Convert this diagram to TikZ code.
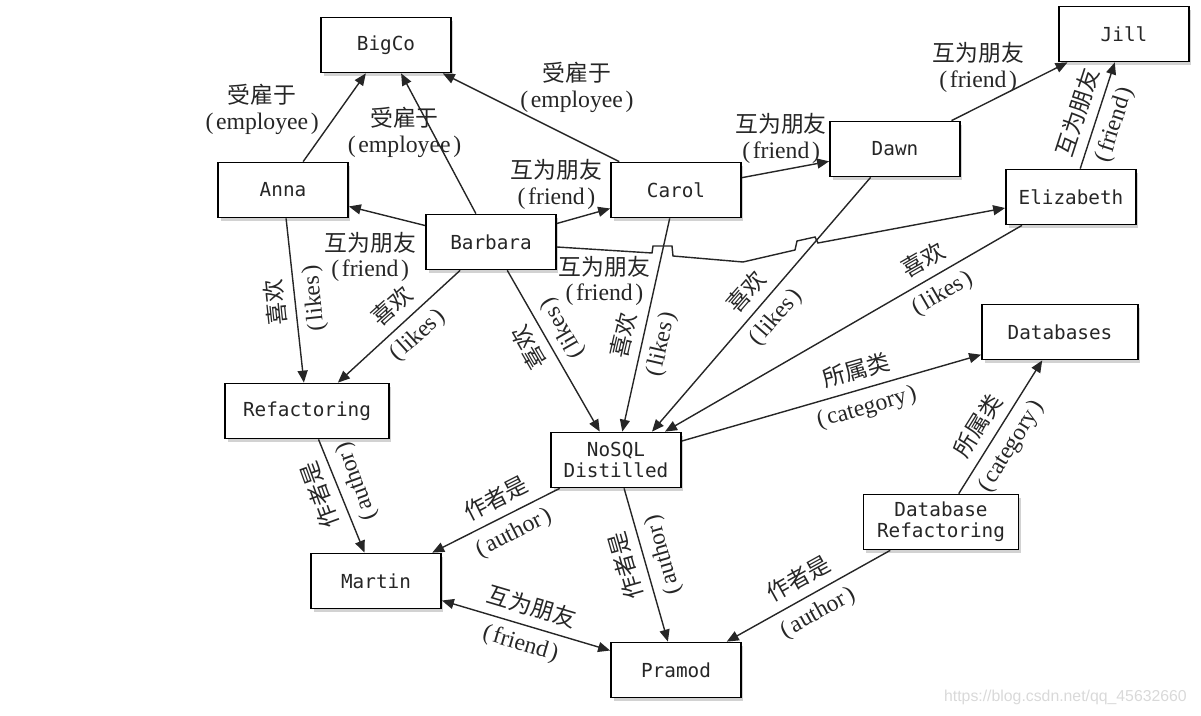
\documentclass[tikz,border=0pt]{standalone}
\usepackage{fontspec}
\setmainfont{Liberation Serif}
\newfontfamily\cjk{Noto Sans CJK SC}
\newfontfamily\mono{DejaVu Sans Mono}
\newfontfamily\wmfont{Liberation Sans}
\usetikzlibrary{arrows.meta,shadows}

\newcommand{\zh}[1]{{\cjk\fontsize{13}{14}\selectfont #1}}
\newcommand{\rel}[2]{\zh{#1}\\(\kern1.5pt#2\kern1.5pt)}

\tikzset{
	entity/.style={draw, line width=1pt, fill=white, minimum width=2.6cm, minimum height=1.1cm,
		align=center, text=black!85, font=\mono\fontsize{11}{12}\selectfont,
		drop shadow={shadow xshift=0.05cm, shadow yshift=-0.07cm, fill=black!35}},
	link/.style={->, line width=0.8pt, black!85},
	lab/.style={align=center, inner sep=1pt, text=black!85, font=\fontsize{13.5}{14.5}\selectfont},
	along/.style={lab, font=\fontsize{13.5}{21}\selectfont},
}

\begin{document}
\begin{tikzpicture}[x=0.02cm, y=-0.02cm, >={Triangle[length=2.4mm,width=2mm]}]
		\useasboundingbox (0,0) rectangle (1201,716);

		% entities
		\node[entity] (bigco) at (386,45) {BigCo};
		\node[entity] (jill) at (1124,34) {Jill};
		\node[entity] (anna) at (283,190) {Anna};
		\node[entity] (barbara) at (491,242) {Barbara};
		\node[entity] (carol) at (676,190) {Carol};
		\node[entity] (dawn) at (895,149) {Dawn};
		\node[entity] (eliz) at (1071,197) {Elizabeth};
		\node[entity, minimum width=3.28cm] (refac) at (307,411) {Refactoring};
		\node[entity] (nosql) at (616,460) {NoSQL\\Distilled};
		\node[entity, minimum width=3.12cm] (dbs) at (1060,332) {Databases};
		\node[entity, minimum width=3.1cm] (dbref) at (941,522) {Database\\Refactoring};
		\node[entity] (martin) at (376,581) {Martin};
		\node[entity] (pramod) at (676,670) {Pramod};

		% employee
		\draw[link] (anna) -- node[lab, pos=0.59, xshift=-1.56cm] {\rel{受雇于}{employee}} (bigco);
		\draw[link] (barbara) -- node[lab, pos=0.58, xshift=-0.56cm] {\rel{受雇于}{employee}} (bigco);
		\draw[link] (carol) -- node[lab, pos=0.24, yshift=1.06cm] {\rel{受雇于}{employee}} (bigco);

		% friend
		\draw[link] (barbara) -- node[lab, pos=0.72, yshift=-0.9cm] {\rel{互为朋友}{friend}} (anna);
		\draw[link] (barbara) -- node[lab, pos=0.2, xshift=-0.22cm, yshift=0.72cm] {\rel{互为朋友}{friend}} (carol);
		\draw[link] ([yshift=-0.1cm]barbara.east) -- node[lab, yshift=-0.62cm] {\rel{互为朋友}{friend}} (652,253)
			-- (653,246) -- (672,246) -- (673,256) -- (743,262) -- (795,250) -- (797,241)
			-- (815,237) -- (818,243) -- ([yshift=-0.22cm]eliz.west);
		\draw[link] (carol) -- node[lab, pos=0.45, yshift=0.64cm] {\rel{互为朋友}{friend}} (dawn);
		\draw[link] (dawn) -- node[lab, pos=0.23, yshift=0.8cm] {\rel{互为朋友}{friend}} (jill);
		\draw[link] (eliz) -- node[along, pos=0.47, rotate=72] {\rel{互为朋友}{friend}} (jill);
		\draw[link, <->] (martin) -- node[along, rotate=-16.5] {\rel{互为朋友}{friend}} (pramod);

		% likes
		\draw[link] (anna) -- node[along, rotate=96] {\rel{喜欢}{likes}} (refac);
		\draw[link] (barbara) -- node[along, pos=0.45, rotate=42] {\rel{喜欢}{likes}} (refac);
		\draw[link] (barbara) -- node[along, pos=0.42, rotate=120] {\rel{喜欢}{likes}} (nosql);
		\draw[link] (carol) -- node[along, pos=0.57, rotate=77] {\rel{喜欢}{likes}} (nosql);
		\draw[link] (dawn) -- node[along, pos=0.5, rotate=49] {\rel{喜欢}{likes}} ([xshift=0.72cm]nosql.north);
		\draw[link] (eliz) -- node[along, pos=0.25, rotate=30] {\rel{喜欢}{likes}} (nosql);

		% category
		\draw[link] (nosql) -- node[along, pos=0.6, rotate=16] {\rel{所属类}{category}} (dbs);
		\draw[link] (dbref) -- node[along, pos=0.43, rotate=58] {\rel{所属类}{category}} (dbs);

		% author
		\draw[link] (refac) -- node[along, pos=0.43, rotate=110] {\rel{作者是}{author}} (martin);
		\draw[link] (nosql) -- node[along, pos=0.43, rotate=27] {\rel{作者是}{author}} (martin);
		\draw[link] (nosql) -- node[along, pos=0.47, rotate=106] {\rel{作者是}{author}} (pramod);
		\draw[link] (dbref) -- node[along, pos=0.5, rotate=29] {\rel{作者是}{author}} (pramod);

		\node[anchor=east, text=black!15, font=\wmfont\fontsize{9}{11}\selectfont] (wm) at (1193,697) {https://blog.csdn.net/qq\_45632660};
	\end{tikzpicture}
\end{document}
